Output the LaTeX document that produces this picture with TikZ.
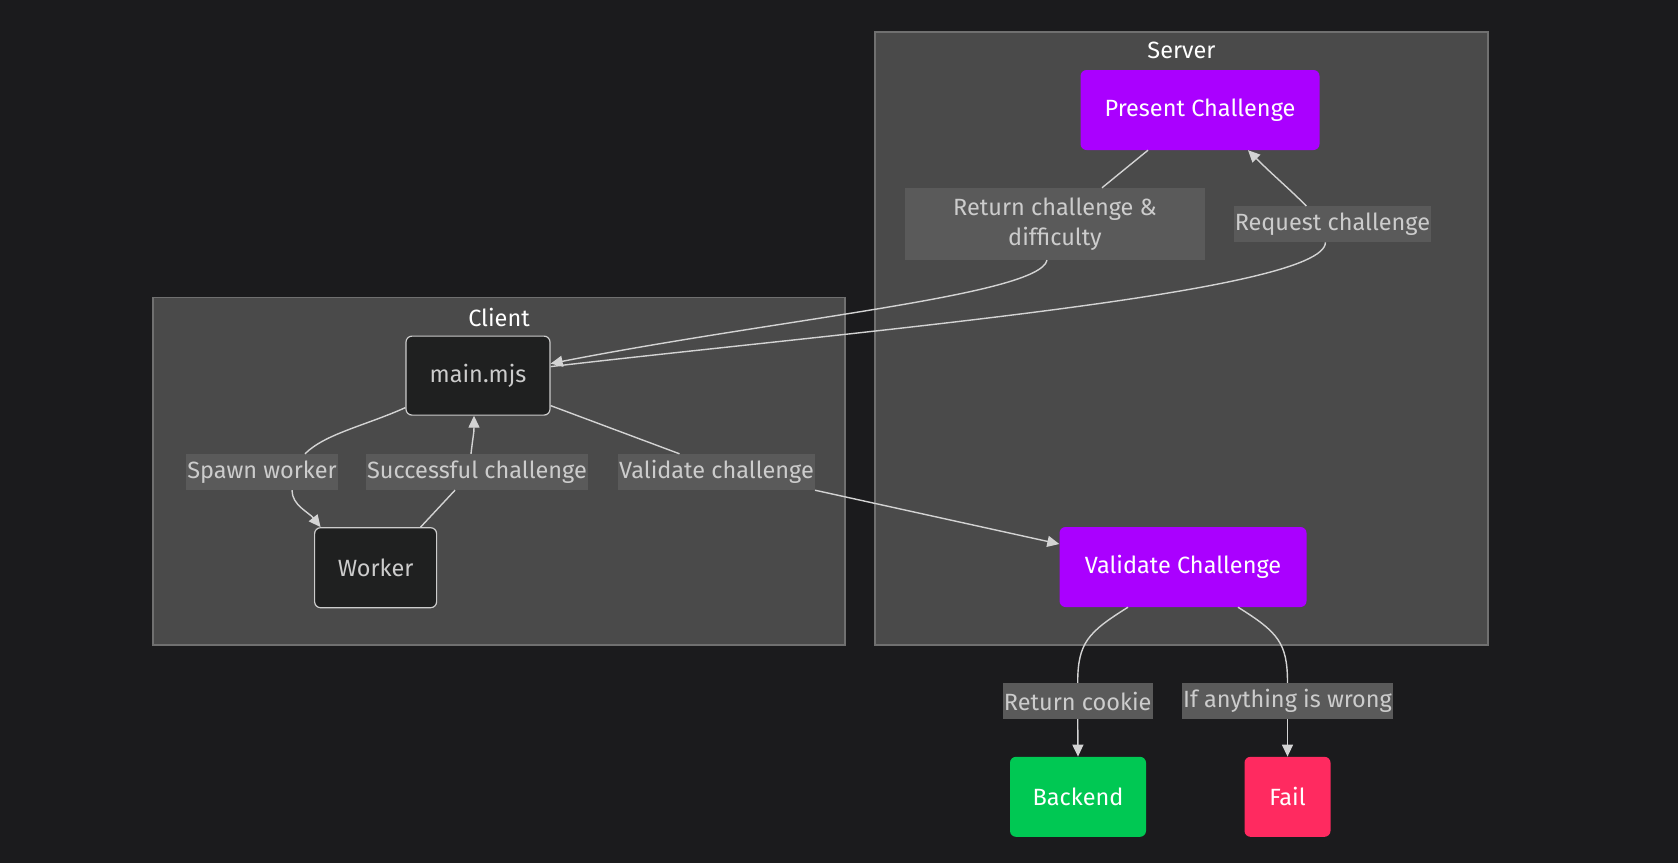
\documentclass[tikz,border=0pt]{standalone}
\usepackage{fontspec}
\setmainfont{Fira Sans}
\usetikzlibrary{arrows.meta,calc}
\definecolor{bg}{HTML}{1B1B1D}
\definecolor{clusterfill}{HTML}{4A4A4A}
\definecolor{clusterline}{HTML}{707070}
\definecolor{lbl}{HTML}{5A5A5A}
\definecolor{edgec}{HTML}{D3D3D3}
\definecolor{txt}{HTML}{CCCCCC}
\definecolor{darknode}{HTML}{1F2020}
\definecolor{purp}{HTML}{AA00FF}
\definecolor{grn}{HTML}{00C853}
\definecolor{rd}{HTML}{FF2A60}
\begin{document}
\begin{tikzpicture}[x=1pt,y=-1pt,
  fnt/.style={font=\fontsize{23.5}{30}\selectfont},
  cluster/.style={draw=clusterline, fill=clusterfill, line width=1.2pt},
  title/.style={fnt, text=white, inner sep=0pt},
  box/.style={fnt, rounded corners=6pt, minimum height=80pt, inner sep=0pt},
  darkbox/.style={box, fill=darknode, draw=txt, line width=1.2pt, text=txt},
  purpbox/.style={box, fill=purp, text=white},
  grnbox/.style={box, fill=grn, text=white},
  rdbox/.style={box, fill=rd, text=white},
  elabel/.style={fnt, fill=lbl, text=txt, inner xsep=1pt, inner ysep=0pt, minimum height=36pt},
  conn/.style={draw=edgec, line width=1.4pt},
  arr/.style={conn, -{Triangle[length=12pt,width=11pt]}},
]
\useasboundingbox (0,0) rectangle (1678,863);
\fill[bg] (0,0) rectangle (1678,863);

% clusters
\draw[cluster] (875,32) rectangle (1488,645);
\node[title] (servertitle) at (1181.5,50) {Server};
\draw[cluster] (153,297.5) rectangle (845,645);
\node[title] (clienttitle) at (499,317) {Client};

% nodes
\node[purpbox, minimum width=239pt] (pc) at (1200,110) {Present Challenge};
\node[purpbox, minimum width=247pt] (vc) at (1183,567) {Validate Challenge};
\node[darkbox, minimum width=144pt, minimum height=79pt] (mm) at (478,375.6) {main.mjs};
\node[darkbox, minimum width=122pt] (wk) at (375.6,567.7) {Worker};
\node[grnbox, minimum width=136pt] (be) at (1078,796.8) {Backend};
\node[rdbox, minimum width=86pt] (fl) at (1287.5,796.8) {Fail};

% edge labels
\node[elabel, minimum width=300pt, minimum height=72pt, align=center] (lrcd) at (1055,224) {Return challenge \&\\difficulty};
\node[elabel] (lrc) at (1332.4,224.2) {Request challenge};
\node[elabel] (lsw) at (262,472) {Spawn worker};
\node[elabel] (lsc) at (477,472) {Successful challenge};
\node[elabel] (lvc) at (716.5,472) {Validate challenge};
\node[elabel] (lrk) at (1077.7,701) {Return cookie};
\node[elabel] (lfw) at (1287.5,701) {If anything is wrong};

% connectors
\draw[conn] ($(pc.south)+(-52,0)$) -- ($(lrcd.north)+(47,0)$);
\draw[arr] ($(lrcd.south)+(-8,0)$) .. controls +(-8,35) and +(230,-45) .. ($(mm.east)+(0,-12)$);

\draw[conn] ($(mm.east)+(0,-9)$) .. controls +(300,-35) and +(0,50) .. ($(lrc.south)+(-7,0)$);
\draw[arr] ($(lrc.north)+(-26,0)$) .. controls +(-18,-18) and +(25,25) .. ($(pc.south)+(48,0)$);

\draw[conn] ($(mm.west)+(0,32)$) .. controls +(-40,18) and +(20,-20) .. ($(lsw.north)+(43,0)$);
\draw[arr] ($(lsw.south)+(30,0)$) .. controls +(0,15) and +(-12,-15) .. ($(wk.north)+(-55,0)$);

\draw[conn] ($(wk.north)+(45,0)$) -- ($(lsc.south)+(-22,0)$);
\draw[arr] ($(lsc.north)+(-6,0)$) .. controls +(2,-18) and +(0,18) .. ($(mm.south)+(-4,0)$);

\draw[conn] ($(mm.east)+(0,30)$) -- ($(lvc.north)+(-37,0)$);
\draw[arr] (lvc.south east) -- ($(vc.west)+(0,-23)$);

\draw[conn] ($(vc.south)+(-55,0)$) .. controls +(-40,25) and +(0,-40) .. (lrk.north);
\draw[arr] (lrk.south) -- (be.north);

\draw[conn] ($(vc.south)+(55,0)$) .. controls +(40,25) and +(0,-40) .. (lfw.north);
\draw[arr] (lfw.south) -- (fl.north);
\end{tikzpicture}
\end{document}
